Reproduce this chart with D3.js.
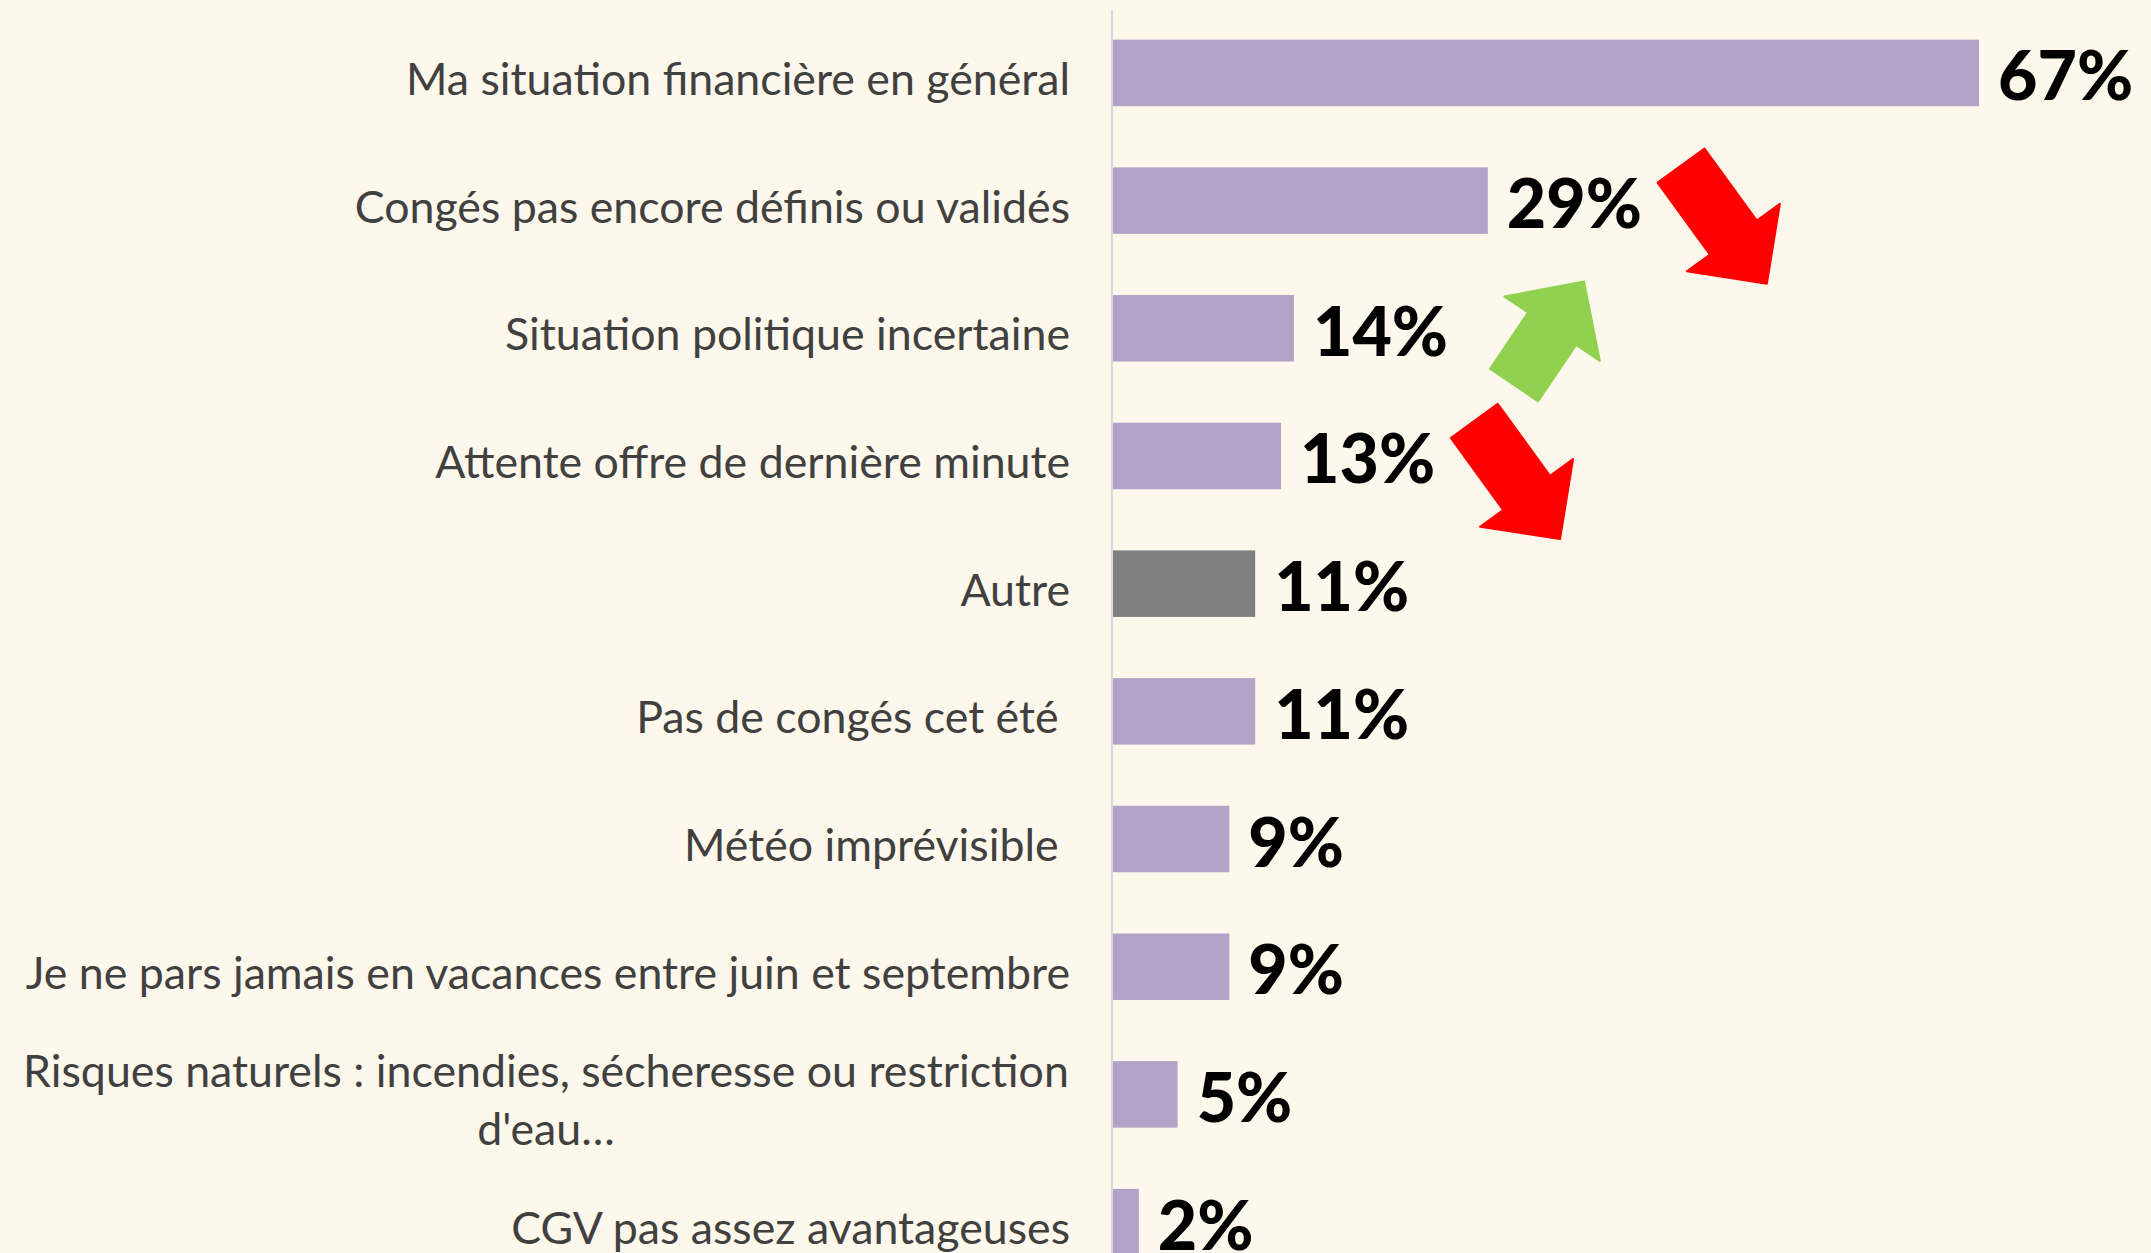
<!DOCTYPE html>
<html>
<head>
<meta charset="utf-8">
<script src="https://cdn.jsdelivr.net/npm/d3@7"></script>
<style>
body { margin: 0; background: #fdf8eb; }
svg { display: block; }
</style>
</head>
<body>
<svg id="chart" width="2151" height="1253"></svg>
<script>
// categories, top to bottom
const categories = [
  "Ma situation financière en général",
  "Congés pas encore définis ou validés",
  "Situation politique incertaine",
  "Attente offre de dernière minute",
  "Autre",
  "Pas de congés cet été ",
  "Météo imprévisible ",
  "Je ne pars jamais en vacances entre juin et septembre",
  "Risques naturels : incendies, sécheresse ou restriction\nd'eau…",
  "CGV pas assez avantageuses"
];
const values = [67, 29, 14, 13, 11, 11, 9, 9, 5, 2];
const greyCategory = "Autre";

// evolution arrows next to some rows
const trendRows = [
  "Congés pas encore définis ou validés",
  "Situation politique incertaine",
  "Attente offre de dernière minute"
];
const trendDirections = ["down", "up", "down"];

const width = 2151, height = 1253;
const purple = "#b3a2c7", grey = "#7f7f7f";
const data = categories.map((c, i) => ({ cat: c, value: values[i] }));

const svg = d3.select("#chart");

const x = d3.scaleLinear()
  .domain([0, d3.max(values)])
  .range([1113, 1979]);

const y = d3.scaleBand()
  .domain(categories)
  .range([9, 1286])
  .paddingInner(0.479)
  .paddingOuter(0.24);

// bars
svg.selectAll(".bar")
  .data(data)
  .join("rect")
  .attr("class", "bar")
  .attr("x", x(0))
  .attr("y", d => y(d.cat))
  .attr("width", d => x(d.value) - x(0))
  .attr("height", y.bandwidth())
  .attr("fill", d => d.cat === greyCategory ? grey : purple);

// vertical axis line
svg.append("line")
  .attr("x1", x(0) - 1).attr("x2", x(0) - 1)
  .attr("y1", 10).attr("y2", height)
  .attr("stroke", "#d9d9d9")
  .attr("stroke-width", 2);

// category labels
const labels = svg.selectAll(".label")
  .data(data)
  .join("text")
  .attr("class", "label")
  .style("white-space", "pre")
  .attr("font-family", "Lato, 'Open Sans', sans-serif")
  .attr("font-size", 44.7)
  .attr("fill", "#404040");

labels.each(function (d) {
  const lines = d.cat.split("\n");
  const cy = y(d.cat) + y.bandwidth() / 2 + 22;
  const t = d3.select(this)
    .attr("text-anchor", lines.length > 1 ? "middle" : "end");
  lines.forEach((line, i) => {
    t.append("tspan")
      .attr("x", lines.length > 1 ? 546 : 1070)
      .attr("y", cy + (i - (lines.length - 1) / 2) * 58)
      .text(line);
  });
});

// value labels
const valueLabels = svg.selectAll(".value")
  .data(data)
  .join("text")
  .attr("class", "value")
  .attr("x", d => x(d.value) + 19)
  .attr("y", d => y(d.cat) + y.bandwidth() / 2 + 27.5)
  .attr("font-family", "Lato, sans-serif")
  .attr("font-weight", 900)
  .attr("font-size", 68)
  .attr("fill", "#000")
  .text(d => d.value + "%");

// block arrows
function arrowPath(L) {
  const sw = 29, hw = 57.5, hl = 57;
  return d3.line()([
    [-L / 2, -sw], [L / 2 - hl, -sw], [L / 2 - hl, -hw], [L / 2, 0],
    [L / 2 - hl, hw], [L / 2 - hl, sw], [-L / 2, sw]
  ]) + "Z";
}

trendRows.forEach((cat, i) => {
  const up = trendDirections[i] === "up";
  const d = data.find(e => e.cat === cat);
  const node = valueLabels.filter(e => e.cat === cat).node();
  const cx = x(d.value) + 19 + node.getComputedTextLength() + (up ? 101 : 82);
  const cy = y(cat) + y.bandwidth() / 2 + (up ? 5 : 24);
  const col = up ? "#92d050" : "#ff0000";
  svg.append("path")
    .attr("d", arrowPath(up ? 125 : 146))
    .attr("transform", `translate(${cx}, ${cy}) rotate(${up ? -56 : 54})`)
    .attr("fill", col)
    .attr("stroke", col)
    .attr("stroke-width", 2)
    .attr("stroke-linejoin", "round");
});
</script>
</body>
</html>
